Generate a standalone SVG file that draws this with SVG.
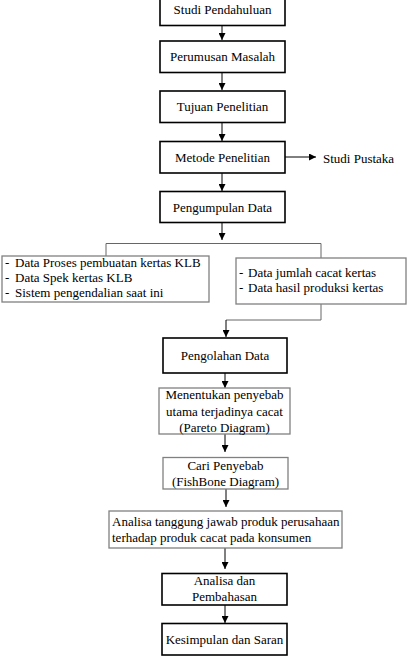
<svg xmlns="http://www.w3.org/2000/svg" width="410" height="662" viewBox="0 0 410 662">
<style>
text{font-family:'Liberation Serif','DejaVu Serif',serif;font-size:13px;fill:#000}
.c{text-anchor:middle}
.b{fill:#fff;stroke:#000;stroke-width:1.6}
.g{fill:#fff;stroke:#808080;stroke-width:1.3}
.l{fill:none;stroke:#000;stroke-width:1}
.lg{fill:none;stroke:#666;stroke-width:1}
</style>
<defs>
<marker id="a" viewBox="0 0 10 10" refX="10" refY="5" markerWidth="7" markerHeight="7" markerUnits="userSpaceOnUse" orient="auto"><path d="M0,0L10,5L0,10z" fill="#000"/></marker>
</defs>
<rect width="410" height="662" fill="#fff"/>
<g id="connectors">
<line class="l" x1="222" y1="26" x2="222" y2="40" marker-end="url(#a)"/>
<line class="l" x1="222" y1="73" x2="222" y2="90" marker-end="url(#a)"/>
<line class="l" x1="222" y1="123" x2="222" y2="141" marker-end="url(#a)"/>
<line class="l" x1="285" y1="157" x2="316" y2="157" marker-end="url(#a)"/>
<line class="l" x1="222" y1="173" x2="222" y2="191" marker-end="url(#a)"/>
<line class="l" x1="222" y1="222" x2="222" y2="240" marker-end="url(#a)"/>
<polyline class="lg" points="106,256 106,243.5 321,243.5 321,258"/>
<polyline class="lg" points="321,304 321,320 226,320"/>
<line class="l" x1="226" y1="320" x2="226" y2="337" marker-end="url(#a)"/>
<line class="l" x1="225" y1="373" x2="225" y2="388" marker-end="url(#a)"/>
<line class="l" x1="225" y1="434" x2="225" y2="452" marker-end="url(#a)"/>
<line class="l" x1="226" y1="489" x2="226" y2="507" marker-end="url(#a)"/>
<line class="l" x1="225" y1="548" x2="225" y2="569" marker-end="url(#a)"/>
<line class="l" x1="225" y1="605" x2="225" y2="623" marker-end="url(#a)"/>
</g>
<g id="n1"><rect class="b" x="160" y="-6" width="125" height="31.5"/><text class="c" x="222.5" y="14">Studi Pendahuluan</text></g>
<g id="n2"><rect class="b" x="160" y="41" width="125" height="31.5"/><text class="c" x="222.5" y="61">Perumusan Masalah</text></g>
<g id="n3"><rect class="b" x="160" y="91" width="125" height="31.5"/><text class="c" x="222.5" y="111">Tujuan Penelitian</text></g>
<g id="n4"><rect class="b" x="160" y="141.5" width="125" height="31.5"/><text class="c" x="222.5" y="161.5">Metode Penelitian</text></g>
<g id="n4b"><text x="323" y="163">Studi Pustaka</text></g>
<g id="n5"><rect class="b" x="160" y="191.5" width="125" height="31"/><text class="c" x="222.5" y="211.5">Pengumpulan Data</text></g>
<g id="n6"><rect class="g" x="2" y="256" width="207" height="46"/>
<text x="5" y="267">-</text><text x="15" y="267">Data Proses pembuatan kertas KLB</text>
<text x="5" y="282">-</text><text x="15" y="282">Data Spek kertas KLB</text>
<text x="5" y="297">-</text><text x="15" y="297">Sistem pengendalian saat ini</text></g>
<g id="n7"><rect class="g" x="236" y="258" width="170" height="46"/>
<text x="239" y="277">-</text><text x="248" y="277">Data jumlah cacat kertas</text>
<text x="239" y="292">-</text><text x="248" y="292">Data hasil produksi kertas</text></g>
<g id="n8"><rect class="b" x="163" y="338" width="124" height="35"/><text class="c" x="225" y="360">Pengolahan Data</text></g>
<g id="n9"><rect class="g" x="159" y="388" width="131" height="46"/>
<text class="c" x="224.5" y="399">Menentukan penyebab</text>
<text class="c" x="224.5" y="415.5">utama terjadinya cacat</text>
<text class="c" x="224.5" y="431.5">(Pareto Diagram)</text></g>
<g id="n10"><rect class="g" x="163" y="457.5" width="125" height="31.5"/>
<text class="c" x="225.5" y="470">Cari Penyebab</text>
<text class="c" x="225.5" y="486">(FishBone Diagram)</text></g>
<g id="n11"><rect class="g" x="109" y="511" width="233" height="37"/>
<text x="112" y="525.5">Analisa tanggung jawab produk perusahaan</text>
<text x="112" y="541.5">terhadap produk cacat pada konsumen</text></g>
<g id="n12"><rect class="b" x="162" y="573.5" width="125" height="31.5"/>
<text class="c" x="224.5" y="585">Analisa dan</text>
<text class="c" x="224.5" y="600.5">Pembahasan</text></g>
<g id="n13"><rect class="b" x="162" y="623.5" width="125" height="31.5"/><text class="c" x="224.5" y="643.5">Kesimpulan dan Saran</text></g>
</svg>
